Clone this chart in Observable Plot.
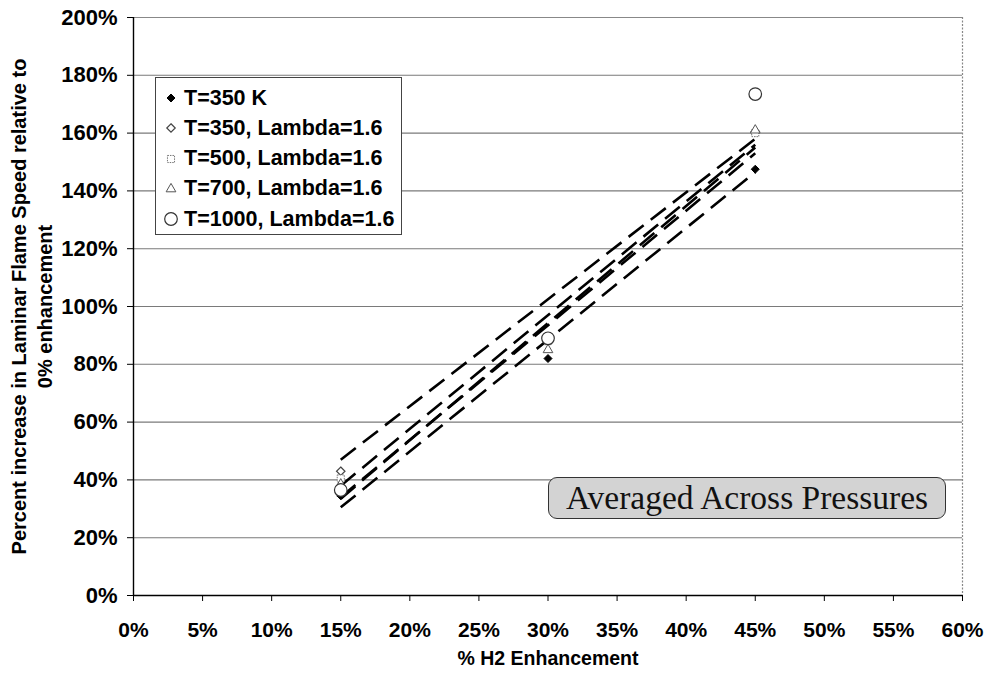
<!DOCTYPE html>
<html>
<head>
<meta charset="utf-8">
<script src="https://cdn.jsdelivr.net/npm/d3@7"></script>
<script src="https://cdn.jsdelivr.net/npm/@observablehq/plot@0.6"></script>
<style>
  html, body { margin: 0; padding: 0; background: #fff; }
  #wrap { position: relative; width: 989px; height: 675px; font-family: "Liberation Sans", Arial, sans-serif; }
  #legend {
    position: absolute; left: 155px; top: 77px; width: 245px; height: 156px;
    border: 1.5px solid #444; background: #fff; box-sizing: content-box;
  }
  .row { position: absolute; left: 0; height: 30px; display: flex; align-items: center;
         font-weight: bold; font-size: 21.5px; color: #000; white-space: nowrap; }
  .row svg { width: 20px; height: 20px; margin-left: 5px; margin-right: 3px; overflow: visible; }
  #note {
    position: absolute; left: 548px; top: 477px; width: 396px; height: 40px;
    border: 1.6px solid #333; border-radius: 9px; background: #d3d3d3;
    display: flex; align-items: center; justify-content: center;
    font-family: "Liberation Serif", "Times New Roman", serif; font-size: 33.5px; color: #111;
  }
</style>
</head>
<body>
<div id="wrap"></div>
<script>
// Hydrogen enhancement levels (fraction of fuel)
const h2 = [0.15, 0.30, 0.45];

// Series names, in legend order
const series = [
  "T=350 K",
  "T=350, Lambda=1.6",
  "T=500, Lambda=1.6",
  "T=700, Lambda=1.6",
  "T=1000, Lambda=1.6"
];

// Percent increase in laminar flame speed (as fractions), one array per series
const t350K      = [0.345, 0.82, 1.475];
const t350Lambda = [0.43, 0.885, 1.605];
const t500Lambda = [0.405, 0.88, 1.60];
const t700Lambda = [0.385, 0.85, 1.61];
const t1000Lambda = [0.365, 0.89, 1.735];

// Linear trend lines: value at the first and last enhancement level
const trendStart = [0.305, 0.47, 0.38, 0.34, 0.335];
const trendEnd   = [1.465, 1.58, 1.56, 1.53, 1.55];

// Axis ticks
const xTicks = d3.range(0, 0.6001, 0.05);
const yTicks = d3.range(0, 2.0001, 0.2);

const values = [t350K, t350Lambda, t500Lambda, t700Lambda, t1000Lambda];

// Marker styling per series
const markerStyle = [
  {symbol: "diamond2", fill: "#000", stroke: "#000", r: 3.6, strokeWidth: 1},
  {symbol: "diamond2", fill: "#fff", stroke: "#444", r: 3.8, strokeWidth: 1.2},
  {symbol: "square", fill: "#fff", stroke: "#777", r: 4.0, strokeWidth: 1, strokeDasharray: "1.5,1"},
  {symbol: "triangle", fill: "#fff", stroke: "#555", r: 3.6, strokeWidth: 1},
  {symbol: "circle", fill: "#fff", stroke: "#333", r: 6.3, strokeWidth: 1.2}
];

const points = series.flatMap((s, i) => h2.map((x, j) => ({series: s, x, y: values[i][j]})));
const trends = series.flatMap((s, i) => [
  {series: s, x: h2[0], y: trendStart[i]},
  {series: s, x: h2[h2.length - 1], y: trendEnd[i]}
]);

const pct = d => Math.round(d * 100) + "%";

const chart = Plot.plot({
  width: 989,
  height: 675,
  marginLeft: 133,
  marginRight: 27,
  marginTop: 17,
  marginBottom: 80,
  style: {
    fontFamily: "'Liberation Sans', Arial, sans-serif",
    fontSize: "20px",
    fontWeight: "bold",
    color: "#000",
    background: "transparent",
    overflow: "visible"
  },
  x: {domain: [0, 0.6]},
  y: {domain: [0, 2]},
  marks: [
    Plot.ruleY(yTicks.filter(d => d > 0 && d < 2), {stroke: "#7a7a7a", strokeWidth: 1.1}),
    Plot.ruleY([2], {stroke: "#888", strokeWidth: 1.2}),
    Plot.ruleX([0.6], {stroke: "#888", strokeWidth: 1.2, strokeDasharray: "2,1.5"}),
    Plot.axisY({ticks: yTicks, tickFormat: pct, tickSize: 6, tickPadding: 10, label: null,
                fontSize: 22, fontWeight: "bold", stroke: "#000"}),
    Plot.axisX({ticks: xTicks, tickFormat: pct, tickSize: 6, tickPadding: 21, label: null,
                fontSize: 21, fontWeight: "bold", stroke: "#000"}),
    Plot.ruleX([0], {stroke: "#000", strokeWidth: 1.4}),
    Plot.ruleY([0], {stroke: "#000", strokeWidth: 1.4}),
    Plot.line(trends, {x: "x", y: "y", z: "series", stroke: "#000", strokeWidth: 2.6,
                       strokeDasharray: "19,9", strokeLinecap: "butt"}),
    ...series.map((s, i) => Plot.dot(points.filter(p => p.series === s), {
      x: "x", y: "y", ...markerStyle[i]
    })),
    Plot.text(["Percent increase in Laminar Flame Speed relative to\n0% enhancement"], {
      frameAnchor: "left", rotate: -90, dx: -103, lineHeight: 1.3,
      fontSize: 20, fontWeight: "bold", fill: "#000", textAnchor: "middle"
    }),
    Plot.text(["% H2 Enhancement"], {
      frameAnchor: "bottom", dy: 69, fontSize: 19.5, fontWeight: "bold", fill: "#000"
    })
  ]
});

const wrap = document.getElementById("wrap");
wrap.appendChild(chart);

// Legend box
const legend = document.createElement("div");
legend.id = "legend";
const typeMap = {diamond2: d3.symbolDiamond2, square: d3.symbolSquare, triangle: d3.symbolTriangle, circle: d3.symbolCircle};
series.forEach((s, i) => {
  const m = markerStyle[i];
  const row = document.createElement("div");
  row.className = "row";
  row.style.top = (5 + i * 30.3) + "px";
  const path = d3.symbol().type(typeMap[m.symbol]).size(Math.PI * m.r * m.r)();
  row.innerHTML = `<svg viewBox="-10 -10 20 20"><path d="${path}" fill="${m.fill}" stroke="${m.stroke}"
    stroke-width="${m.strokeWidth}" ${m.strokeDasharray ? `stroke-dasharray="${m.strokeDasharray}"` : ""}/></svg><span>${s}</span>`;
  legend.appendChild(row);
});
wrap.appendChild(legend);

// Annotation
const note = document.createElement("div");
note.id = "note";
note.textContent = "Averaged Across Pressures";
wrap.appendChild(note);
</script>
</body>
</html>
